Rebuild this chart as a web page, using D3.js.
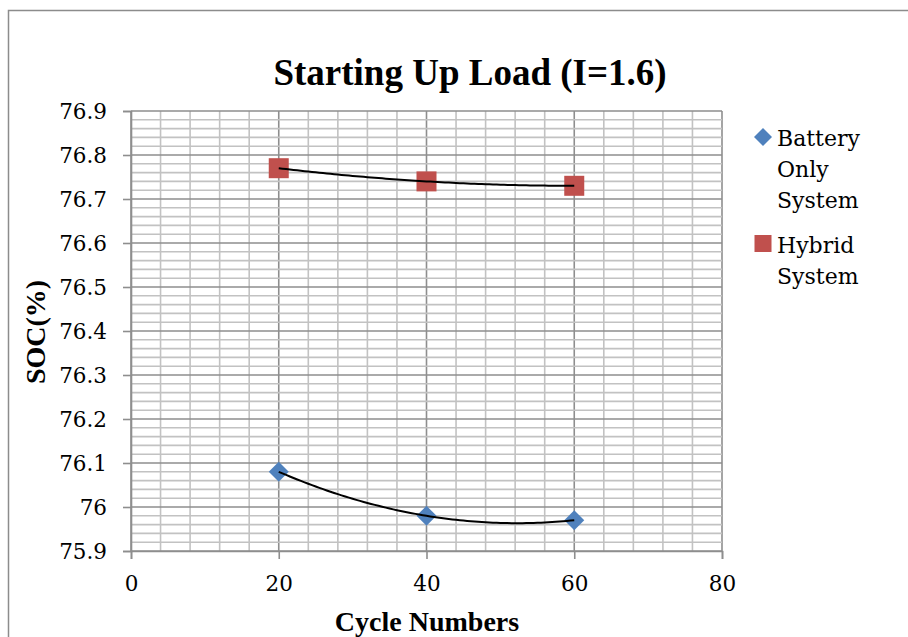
<!DOCTYPE html>
<html><head><meta charset="utf-8">
<script src="https://cdn.jsdelivr.net/npm/d3@7"></script>
<style>body{margin:0;background:#fff}svg{display:block}</style>
</head><body>
<svg id="c" width="908" height="637"></svg>
<script>
const cycles = [20, 40, 60];
const batteryOnly = [76.08, 75.98, 75.97];
const hybrid = [76.77, 76.74, 76.73];
const xTicks = [0, 20, 40, 60, 80];
const yTicks = [75.9, 76, 76.1, 76.2, 76.3, 76.4, 76.5, 76.6, 76.7, 76.8, 76.9];
const seriesNames = ["Battery Only System", "Hybrid System"];
const title = "Starting Up Load (I=1.6)";

const svg = d3.select("#c");
const W = 908, H = 637;
const L = 131, R = 722, T = 111, B = 551;
const x = d3.scaleLinear().domain([0, 80]).range([L, R]);
const y = d3.scaleLinear().domain([75.9, 76.9]).range([B, T]);
const serif = "'Liberation Serif','Times New Roman',serif";
const cambria = "'DejaVu Serif',serif";

svg.append("rect").attr("x", 8.5).attr("y", 10.5).attr("width", W + 10).attr("height", H + 10)
  .attr("fill", "#fff").attr("stroke", "#8c8c8c").attr("stroke-width", 1.5);

// grid
const g = svg.append("g");
d3.range(0, 80.001, 4).forEach(v => {
  g.append("line").attr("x1", x(v)).attr("x2", x(v)).attr("y1", T).attr("y2", B)
    .attr("stroke", xTicks.includes(v) ? "#8e8e8e" : "#c2c2c2").attr("stroke-width", 1.6);
});
d3.range(0, 50.5, 1).forEach(i => {
  const v = 75.9 + i * 0.02;
  const major = i % 5 === 0;
  g.append("line").attr("x1", L).attr("x2", R).attr("y1", y(v)).attr("y2", y(v))
    .attr("stroke", major ? "#8e8e8e" : "#c2c2c2").attr("stroke-width", 1.6);
});

// axes
const xAxis = d3.axisBottom(x).tickValues(xTicks).tickSize(8).tickPadding(17).tickFormat(d3.format("d"));
const yAxis = d3.axisLeft(y).tickValues(yTicks).tickSize(8).tickPadding(16).tickFormat(d => d3.format(".1f")(d).replace(/\.0$/, ""));
const gx = svg.append("g").attr("transform", `translate(0,${B})`).call(xAxis);
const gy = svg.append("g").attr("transform", `translate(${L},0)`).call(yAxis);
[gx, gy].forEach(a => {
  a.select(".domain").attr("stroke", "#8e8e8e").attr("stroke-width", 1.6);
  a.selectAll(".tick line").attr("stroke", "#8e8e8e").attr("stroke-width", 1.6);
  a.selectAll("text").attr("font-family", cambria).attr("font-size", 21.5).attr("fill", "#000");
});
gy.selectAll("text").attr("dy", "0.36em");

// trendlines (quadratic least-squares fit through the points)
function quadFit(xs, ys) {
  const n = xs.length;
  let S = [0,0,0,0,0], T2 = [0,0,0];
  for (let i = 0; i < n; i++) {
    for (let k = 0; k < 5; k++) S[k] += Math.pow(xs[i], k);
    for (let k = 0; k < 3; k++) T2[k] += ys[i] * Math.pow(xs[i], k);
  }
  const M = [[S[0],S[1],S[2],T2[0]],[S[1],S[2],S[3],T2[1]],[S[2],S[3],S[4],T2[2]]];
  for (let i = 0; i < 3; i++) {
    for (let j = i + 1; j < 3; j++) {
      const f = M[j][i] / M[i][i];
      for (let k = i; k < 4; k++) M[j][k] -= f * M[i][k];
    }
  }
  const c = [0,0,0];
  for (let i = 2; i >= 0; i--) {
    let s = M[i][3];
    for (let k = i + 1; k < 3; k++) s -= M[i][k] * c[k];
    c[i] = s / M[i][i];
  }
  return t => c[0] + c[1] * t + c[2] * t * t;
}
const line = d3.line().x(d => x(d[0])).y(d => y(d[1]));

// markers
const diamond = s => `M0,${-s}L${s},0L0,${s}L${-s},0Z`;
cycles.forEach((c, i) => {
  svg.append("path").attr("d", diamond(10)).attr("transform", `translate(${x(c)},${y(batteryOnly[i])})`)
    .attr("fill", "#4f81bd");
  svg.append("rect").attr("x", x(c) - 10).attr("y", y(hybrid[i]) - 10).attr("width", 20).attr("height", 20)
    .attr("fill", "#c0504d");
});
[batteryOnly, hybrid].forEach(vals => {
  const f = quadFit(cycles, vals);
  const pts = d3.range(cycles[0], cycles[cycles.length - 1] + 0.01, 0.5).map(t => [t, f(t)]);
  svg.append("path").attr("d", line(pts)).attr("fill", "none").attr("stroke", "#000").attr("stroke-width", 2);
});

// title and axis labels
svg.append("text").attr("x", 470).attr("y", 85).attr("text-anchor", "middle")
  .attr("font-family", serif).attr("font-weight", "bold").attr("font-size", 37).text(title);
svg.append("text").attr("x", 427).attr("y", 631).attr("text-anchor", "middle")
  .attr("font-family", serif).attr("font-weight", "bold").attr("font-size", 28).text("Cycle Numbers");
svg.append("text").attr("transform", "translate(45,332) rotate(-90)").attr("text-anchor", "middle")
  .attr("font-family", serif).attr("font-weight", "bold").attr("font-size", 28).text("SOC(%)");

// legend
const leg = svg.append("g");
const legLines = [["Battery", "Only", "System"], ["Hybrid", "System"]];
const legY = [146, 253];
leg.append("path").attr("d", diamond(9)).attr("transform", `translate(763,137)`).attr("fill", "#4f81bd");
leg.append("rect").attr("x", 754.5).attr("y", 235).attr("width", 17).attr("height", 17).attr("fill", "#c0504d");
legLines.forEach((ls, i) => {
  ls.forEach((t, j) => {
    leg.append("text").attr("x", 777).attr("y", legY[i] + j * 31).attr("font-family", cambria)
      .attr("font-size", 22).text(t);
  });
});
</script>
</body></html>
